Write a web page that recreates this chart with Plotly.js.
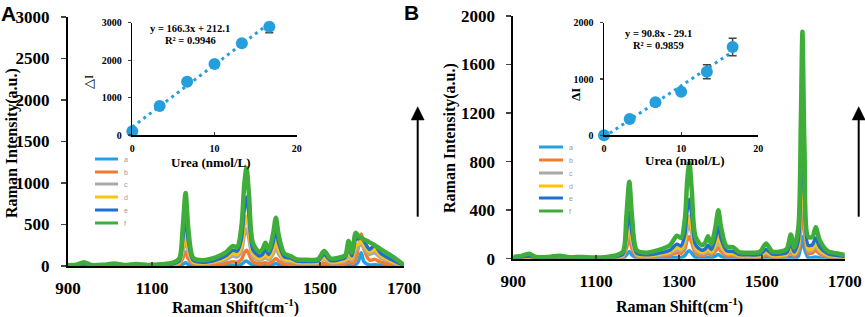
<!DOCTYPE html>
<html>
<head>
<meta charset="utf-8">
<script src="https://cdn.plot.ly/plotly-3.0.1.min.js"></script>
<style>
html,body{margin:0;padding:0;background:#fff;}
#chart{width:865px;height:317px;}
</style>
</head>
<body>
<div id="chart"></div>
<script>
// ---------------- DATA ----------------
const seriesNames = ['a', 'b', 'c', 'd', 'e', 'f'];

// Panel A spectra (Raman shift, cm-1)
const shiftA = [900, 920, 938, 955, 985, 1010, 1035, 1062, 1090, 1120, 1150, 1165, 1173, 1180, 1187, 1198, 1220, 1250, 1275, 1292, 1303, 1313, 1320, 1325, 1331, 1340, 1355, 1363, 1370, 1378, 1388, 1395, 1402, 1415, 1430, 1445, 1470, 1495, 1510, 1525, 1545, 1560, 1568, 1576, 1585, 1592, 1598, 1605, 1618, 1630, 1645, 1665, 1685, 1700];
const aA = [0, 0, 2, 0, 0, 1, 0, 1, 0, 1, 2, 5, 20, 40, 18, 5, 3, 4, 6, 10, 8, 20, 50, 60, 40, 10, 5, 6, 10, 6, 18, 30, 16, 5, 5, 3, 3, 3, 8, 3, 3, 4, 10, 5, 15, 60, 160, 50, 12, 15, 8, 4, 2, 0];
const bA = [2, 3, 10, 2, 3, 5, 2, 4, 2, 3, 8, 20, 90, 170, 80, 22, 15, 22, 35, 50, 45, 80, 160, 190, 140, 50, 30, 32, 40, 30, 60, 90, 58, 25, 22, 15, 14, 15, 30, 16, 18, 25, 50, 30, 80, 250, 385, 200, 70, 80, 45, 25, 10, 1];
const cA = [3, 4, 14, 3, 4, 8, 3, 6, 3, 5, 14, 35, 160, 330, 150, 40, 28, 45, 75, 120, 110, 180, 380, 450, 320, 110, 70, 80, 100, 75, 140, 220, 140, 60, 55, 35, 32, 35, 75, 40, 42, 58, 120, 70, 180, 230, 280, 210, 140, 160, 95, 55, 22, 2];
const dA = [4, 5, 18, 4, 5, 10, 4, 8, 4, 7, 18, 45, 220, 450, 200, 50, 35, 55, 95, 150, 140, 240, 500, 600, 430, 150, 90, 105, 140, 100, 190, 300, 190, 80, 70, 45, 40, 45, 100, 50, 55, 75, 170, 90, 240, 270, 300, 250, 170, 200, 120, 70, 30, 3];
const eA = [5, 8, 25, 6, 8, 15, 6, 12, 6, 10, 25, 60, 300, 620, 280, 70, 45, 70, 120, 190, 180, 330, 700, 830, 600, 200, 120, 140, 200, 140, 270, 430, 270, 110, 95, 60, 55, 60, 140, 65, 75, 100, 230, 120, 320, 330, 340, 300, 200, 250, 150, 90, 40, 5];
const fA = [10, 15, 45, 12, 15, 30, 12, 25, 12, 20, 40, 90, 450, 880, 420, 100, 70, 100, 160, 240, 230, 480, 1000, 1180, 850, 280, 170, 200, 280, 190, 380, 580, 360, 150, 120, 80, 75, 80, 180, 90, 100, 130, 300, 160, 400, 360, 340, 320, 285, 250, 200, 140, 70, 10];

// Panel B spectra
const shiftB = [900, 915, 938, 955, 985, 1012, 1035, 1065, 1095, 1125, 1150, 1165, 1173, 1180, 1187, 1198, 1220, 1250, 1278, 1295, 1305, 1314, 1320, 1325, 1331, 1340, 1355, 1363, 1370, 1378, 1388, 1395, 1402, 1415, 1430, 1445, 1470, 1495, 1510, 1525, 1545, 1560, 1570, 1578, 1588, 1594, 1598, 1603, 1612, 1622, 1630, 1640, 1660, 1680, 1700];
const aB = [0, 0, 2, 0, 0, 1, 0, 0, 0, 0, 1, 4, 30, 60, 28, 5, 3, 4, 6, 12, 10, 25, 55, 65, 45, 10, 5, 6, 12, 6, 22, 35, 18, 5, 5, 3, 3, 3, 10, 3, 3, 4, 15, 4, 20, 100, 180, 80, 8, 10, 15, 6, 3, 2, 1];
const bB = [3, 3, 8, 3, 3, 5, 2, 3, 2, 3, 7, 15, 85, 160, 80, 18, 13, 18, 30, 48, 43, 80, 155, 180, 130, 45, 28, 32, 45, 30, 62, 90, 58, 25, 24, 14, 13, 14, 30, 15, 15, 20, 55, 22, 60, 260, 450, 210, 42, 48, 70, 38, 16, 10, 6];
const cB = [5, 5, 12, 5, 5, 8, 3, 5, 3, 5, 10, 22, 130, 240, 120, 28, 20, 28, 45, 72, 65, 120, 240, 280, 200, 68, 42, 48, 65, 45, 95, 140, 88, 38, 36, 21, 19, 21, 45, 22, 22, 30, 78, 32, 90, 400, 700, 330, 65, 70, 100, 56, 24, 16, 10];
const dB = [6, 7, 16, 6, 6, 10, 4, 6, 4, 6, 13, 28, 160, 290, 150, 35, 25, 35, 55, 90, 80, 150, 300, 350, 250, 85, 52, 60, 80, 55, 120, 180, 110, 48, 45, 26, 24, 26, 55, 28, 28, 37, 95, 40, 110, 500, 850, 400, 80, 85, 120, 70, 30, 20, 13];
const eB = [8, 10, 22, 8, 8, 14, 6, 8, 5, 8, 18, 38, 210, 380, 200, 45, 32, 45, 70, 120, 105, 200, 410, 490, 350, 115, 70, 80, 110, 75, 170, 265, 160, 65, 60, 35, 32, 35, 75, 38, 38, 50, 130, 55, 150, 650, 1100, 520, 110, 115, 170, 95, 40, 28, 18];
const fB = [15, 20, 40, 15, 15, 25, 12, 15, 10, 15, 30, 60, 350, 635, 330, 70, 50, 70, 110, 190, 170, 320, 650, 790, 560, 180, 110, 130, 185, 120, 260, 400, 250, 100, 95, 55, 50, 55, 125, 60, 60, 80, 200, 90, 250, 1100, 1870, 900, 180, 180, 260, 150, 60, 45, 30];

// Insets: urea concentration vs delta I
const ureaConc = [0, 3.33, 6.67, 10, 13.33, 16.67];
const deltaIA = [100, 775, 1425, 1897, 2449, 2894];
const errA = [30, 40, 50, 50, 80, 160];
const deltaIB = [0, 290, 586, 775, 1130, 1568];
const errB = [20, 30, 40, 60, 124, 157];
// Linear fits (as printed): y = 166.3x + 212.1 ; y = 90.8x - 29.1
const fitX = [0, 16.67];
const fitYA = [212, 2984];
const fitYB = [-29, 1484];
const eqA = ['y = 166.3x + 212.1', 'R² = 0.9946'];
const eqB = ['y = 90.8x - 29.1', 'R² = 0.9859'];

// Tick labels
const shiftTicks = [900, 1100, 1300, 1500, 1700];
const intensityTicksA = [0, 500, 1000, 1500, 2000, 2500, 3000];
const intensityTicksB = [0, 400, 800, 1200, 1600, 2000];
const ureaTicks = [0, 10, 20];
const deltaTicksA = [0, 1000, 2000, 3000];
const deltaTicksB = [0, 1000, 2000];

// ---------------- STYLE ----------------
const colors = ['#23a2e2', '#f37b2e', '#a8a8a8', '#ffc20e', '#1e6fd2', '#3fad3a'];
const markerColor = '#259fdc';
const W = 865, H = 317;
const px = v => v / W;
const py = v => 1 - v / H;
const SERIF = 'Liberation Serif, Times New Roman, serif';
const SANS = 'Liberation Sans, Arial, sans-serif';
const bold = arr => arr.map(v => '<b>' + v + '</b>');

const traces = [];
const specA = [aA, bA, cA, dA, eA, fA];
const specB = [aB, bB, cB, dB, eB, fB];
specA.forEach((ys, i) => traces.push({
  x: shiftA, y: ys, xaxis: 'x', yaxis: 'y', type: 'scatter', mode: 'lines',
  name: seriesNames[i], showlegend: false,
  line: {color: colors[i], width: i === 5 ? 4.5 : 3.5, shape: 'spline', smoothing: 0.8}
}));
specB.forEach((ys, i) => traces.push({
  x: shiftB, y: ys, xaxis: 'x3', yaxis: 'y3', type: 'scatter', mode: 'lines',
  name: seriesNames[i], showlegend: false,
  line: {color: colors[i], width: i === 5 ? 4.5 : 3.5, shape: 'spline', smoothing: 0.8}
}));
// inset fits
traces.push({x: fitX, y: fitYA, xaxis: 'x2', yaxis: 'y2', mode: 'lines', showlegend: false,
  line: {color: markerColor, width: 3, dash: '3px,4px'}, cliponaxis: false});
traces.push({x: fitX, y: fitYB, xaxis: 'x4', yaxis: 'y4', mode: 'lines', showlegend: false,
  line: {color: markerColor, width: 3, dash: '3px,4px'}, cliponaxis: false});
// inset points
traces.push({x: ureaConc, y: deltaIA, xaxis: 'x2', yaxis: 'y2', mode: 'markers', showlegend: false,
  marker: {color: markerColor, size: 12},
  error_y: {type: 'data', array: errA, visible: true, color: '#444', thickness: 1.5, width: 4},
  cliponaxis: false});
traces.push({x: ureaConc, y: deltaIB, xaxis: 'x4', yaxis: 'y4', mode: 'markers', showlegend: false,
  marker: {color: markerColor, size: 12},
  error_y: {type: 'data', array: errB, visible: true, color: '#444', thickness: 1.5, width: 4},
  cliponaxis: false});

const mainTickFont = {family: SERIF, size: 17, color: '#000', weight: 'bold'};
const insetTickFont = {family: SERIF, size: 10, color: '#000', weight: 'bold'};
const axBase = {showgrid: false, zeroline: false, showline: true, linecolor: '#000', fixedrange: true, tickmode: 'array'};

const layout = {
  width: W, height: H,
  margin: {l: 0, r: 0, t: 0, b: 0},
  paper_bgcolor: '#fff', plot_bgcolor: 'rgba(0,0,0,0)',
  showlegend: false,
  xaxis: Object.assign({}, axBase, {domain: [px(68), px(404)], anchor: 'y', range: [900, 1700],
    tickvals: shiftTicks, ticktext: bold(shiftTicks), ticks: 'inside', ticklen: 4, tickwidth: 1.5,
    linewidth: 2, tickfont: mainTickFont, ticklabelstandoff: 6}),
  yaxis: Object.assign({}, axBase, {domain: [py(266), py(17)], anchor: 'x', range: [0, 3000],
    tickvals: intensityTicksA, ticktext: bold(intensityTicksA), ticks: 'outside', ticklen: 5, tickwidth: 1.5, linewidth: 2,
    tickfont: mainTickFont, ticklabelstandoff: 8}),
  xaxis2: Object.assign({}, axBase, {domain: [px(132.3), px(296.7)], anchor: 'y2', range: [0, 20],
    tickvals: ureaTicks, ticktext: bold(ureaTicks), ticks: 'inside', ticklen: 3, tickwidth: 1.2, linewidth: 1.5,
    tickfont: insetTickFont, ticklabelstandoff: 3}),
  yaxis2: Object.assign({}, axBase, {domain: [py(135), py(22.7)], anchor: 'x2', range: [0, 3000],
    tickvals: deltaTicksA, ticktext: bold(deltaTicksA), ticks: 'outside', ticklen: 3, tickwidth: 1.2, linewidth: 1.5,
    tickfont: insetTickFont, ticklabelstandoff: 4}),
  xaxis3: Object.assign({}, axBase, {domain: [px(513.3), px(844.7)], anchor: 'y3', range: [900, 1700],
    tickvals: shiftTicks, ticktext: bold(shiftTicks), ticks: 'inside', ticklen: 4, tickwidth: 1.5,
    linewidth: 2, tickfont: mainTickFont, ticklabelstandoff: 6}),
  yaxis3: Object.assign({}, axBase, {domain: [py(258.7), py(16)], anchor: 'x3', range: [0, 2000],
    tickvals: intensityTicksB, ticktext: bold(intensityTicksB), ticks: 'outside', ticklen: 5, tickwidth: 1.5, linewidth: 2,
    tickfont: mainTickFont, ticklabelstandoff: 8}),
  xaxis4: Object.assign({}, axBase, {domain: [px(604), px(758.3)], anchor: 'y4', range: [0, 20],
    tickvals: ureaTicks, ticktext: bold(ureaTicks), ticks: 'inside', ticklen: 3, tickwidth: 1.2, linewidth: 1.5,
    tickfont: insetTickFont, ticklabelstandoff: 3}),
  yaxis4: Object.assign({}, axBase, {domain: [py(135.3), py(22.7)], anchor: 'x4', range: [0, 2000],
    tickvals: deltaTicksB, ticktext: bold(deltaTicksB), ticks: 'outside', ticklen: 3, tickwidth: 1.2, linewidth: 1.5,
    tickfont: insetTickFont, ticklabelstandoff: 4}),
  annotations: [],
  shapes: []
};

function txt(x, y, text, font, opts) {
  layout.annotations.push(Object.assign({
    xref: 'paper', yref: 'paper', x: px(x), y: py(y), text: text, showarrow: false,
    xanchor: 'center', yanchor: 'middle', font: font
  }, opts || {}));
}
const titleFont = {family: SERIF, size: 16, color: '#000', weight: 'bold'};
// main axis titles
txt(12, 143, 'Raman Intensity(a.u.)', titleFont, {textangle: -90});
txt(236, 306, 'Raman Shift(cm<sup>-1</sup>)', titleFont);
txt(450, 138, 'Raman Intensity(a.u.)', titleFont, {textangle: -90});
txt(679, 305, 'Raman Shift(cm<sup>-1</sup>)', titleFont);
// inset titles
const insetTitleFont = {family: SERIF, size: 13, color: '#000', weight: 'bold'};
txt(211, 162, 'Urea (nmol/L)', insetTitleFont);
txt(685, 161, 'Urea (nmol/L)', insetTitleFont);
txt(89, 82, '△I', {family: SERIF, size: 13, color: '#000'}, {textangle: -90});
txt(575, 95, 'ΔI', {family: SERIF, size: 13, color: '#000', weight: 'bold'}, {textangle: -90});
// equations
const eqFont = {family: SERIF, size: 10.5, color: '#000', weight: 'bold'};
txt(190, 28, eqA[0], eqFont);
txt(190, 40.5, eqA[1], eqFont);
txt(658, 33.5, eqB[0], eqFont);
txt(658, 45, eqB[1], eqFont);
// panel letters
const letterFont = {family: SANS, size: 21, color: '#000', weight: 'bold'};
txt(8, 14, 'A', letterFont);
txt(411.5, 13, 'B', letterFont);
// arrows (shaft + triangular head)
[417.7, 858.7].forEach(ax => {
  layout.shapes.push({type: 'line', xref: 'paper', yref: 'paper',
    x0: px(ax), x1: px(ax), y0: py(216.7), y1: py(118), line: {color: '#000', width: 2}});
  layout.shapes.push({type: 'path', xref: 'paper', yref: 'paper',
    path: 'M' + px(ax - 6.5) + ',' + py(120) + ' L' + px(ax) + ',' + py(106.7) + ' L' + px(ax + 6.5) + ',' + py(120) + ' Z',
    fillcolor: '#000', line: {color: '#000', width: 0.5}});
});
// legends (drawn manually to reproduce the compact Excel-style legend)
function legend(x0, x1, ys) {
  seriesNames.forEach((n, i) => {
    layout.shapes.push({type: 'line', xref: 'paper', yref: 'paper',
      x0: px(x0), x1: px(x1), y0: py(ys[i]), y1: py(ys[i]),
      line: {color: colors[i], width: 3}});
    txt(x1 + 4, ys[i], n, {family: SANS, size: 7, color: '#999'}, {xanchor: 'left'});
  });
}
legend(95, 118, [159, 172, 184, 197, 210, 223]);
legend(539, 563, [147, 160, 173, 186, 198, 211]);

Plotly.newPlot('chart', traces, layout, {displayModeBar: false, staticPlot: true});
</script>
</body>
</html>
